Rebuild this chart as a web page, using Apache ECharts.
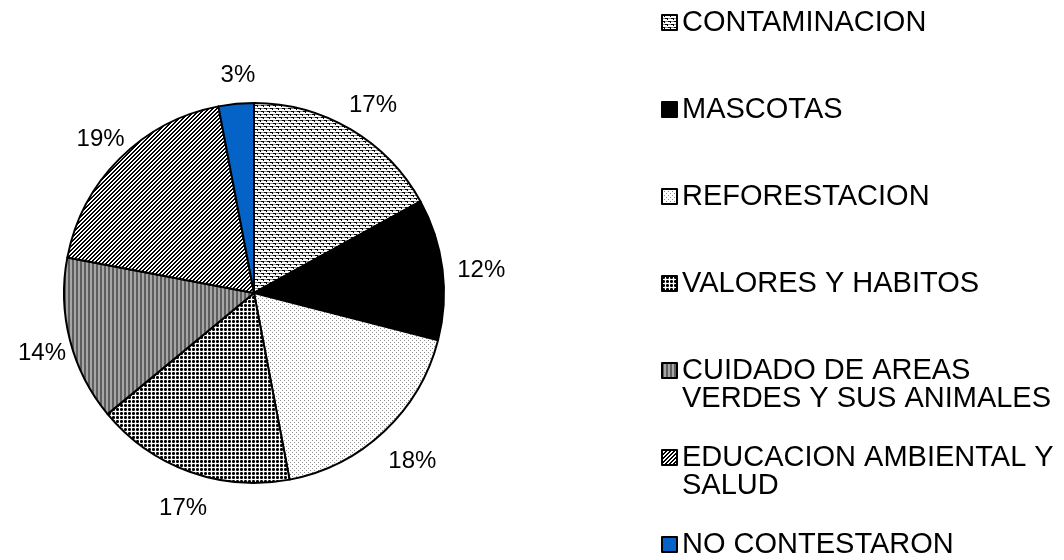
<!DOCTYPE html>
<html>
<head>
<meta charset="utf-8">
<script src="https://cdn.jsdelivr.net/npm/echarts@6/dist/echarts.min.js"></script>
<style>
  html,body{margin:0;padding:0;background:#fff;}
  #main{width:1064px;height:560px;}
</style>
</head>
<body>
<div id="main"></div>
<script>
let categories = ["CONTAMINACION", "MASCOTAS", "REFORESTACION", "VALORES Y HABITOS",
  "CUIDADO DE AREAS VERDES Y SUS ANIMALES", "EDUCACION AMBIENTAL Y SALUD", "NO CONTESTARON"]
let values = [17, 12, 18, 17, 14, 19, 3]
// how the legend wraps the long names
let legendText = ["CONTAMINACION", "MASCOTAS", "REFORESTACION", "VALORES Y HABITOS",
  "CUIDADO DE AREAS\nVERDES Y SUS ANIMALES", "EDUCACION AMBIENTAL Y\nSALUD", "NO CONTESTARON"]

// small canvas tiles for the excel-like fills
function tile(w, h, draw){
  let c = document.createElement('canvas')
  c.width = w; c.height = h
  let ctx = c.getContext('2d')
  ctx.fillStyle = '#fff'
  ctx.fillRect(0, 0, w, h)
  draw(ctx)
  return {image: c, repeat: 'repeat'}
}
function px(ctx, col, pts){
  ctx.fillStyle = col
  pts.forEach(p => ctx.fillRect(p[0], p[1], p[2] || 1, p[3] || 1))
}

let fills = [
  tile(6, 6, ctx => {
    px(ctx, '#000', [[0,0,3,1],[2,1],[3,3,3,1],[5,4]])
    px(ctx, '#8a8a8a', [[3,0,3,1],[0,3,3,1]])
  }),
  '#000',
  tile(4, 4, ctx => px(ctx, '#8c8c8c', [[0,0],[2,2]])),
  tile(4, 4, ctx => {
    px(ctx, '#000', [[1,0],[0,1],[1,1],[2,1],[1,2]])
    px(ctx, '#555', [[0,0],[2,0],[0,2],[2,2]])
  }),
  tile(4, 1, ctx => {
    px(ctx, '#5e5e5e', [[0,0,2,1]])
    px(ctx, '#a6a6a6', [[2,0,2,1]])
  }),
  tile(4, 4, ctx => {
    for(let y = 0; y < 4; y++) for(let x = 0; x < 4; x++)
      if((x + y) % 4 < 2) px(ctx, '#000', [[x, y]])
  }),
  '#0563c8'
]

let myChart = echarts.init(document.getElementById('main'))

let cx = 254, cy = 293, r = 190, labelR = 224
let total = values.reduce((a, b) => a + b, 0)

// label centre on the mid angle of each slice, a bit outside the pie
function labelPos(idx){
  let before = 0
  for(let i = 0; i < idx; i++) before += values[i]
  let a = (before + values[idx] / 2) / total * Math.PI * 2
  return {x: cx + 5 + labelR * Math.sin(a), y: cy + 5 - labelR * Math.cos(a)}
}

let firstLine = 22, step = 87, lh = 28
let legends = categories.map((name, i) => {
  let twoLines = legendText[i].indexOf('\n') >= 0
  return {
    data: [name],
    left: 661,
    top: firstLine + step * i - (twoLines ? lh * 1.5 : lh / 2),
    padding: 0,
    itemWidth: 15,
    itemHeight: 15,
    itemGap: 0,
    icon: 'rect',
    selectedMode: false,
    itemStyle: {borderColor: '#000', borderWidth: 2},
    formatter: () => twoLines ? '\n' + legendText[i] : legendText[i],
    textStyle: {fontFamily: 'Liberation Sans', fontSize: 29, lineHeight: lh, color: '#000'}
  }
})

let option = {
  animation: false,
  legend: legends,
  series: [{
    type: 'pie',
    center: [cx, cy],
    radius: r,
    startAngle: 90,
    clockwise: true,
    avoidLabelOverlap: false,
    itemStyle: {borderColor: '#000', borderWidth: 2},
    label: {
      show: true,
      position: 'outside',
      formatter: '{c}%',
      fontFamily: 'Liberation Sans',
      fontSize: 24,
      color: '#000'
    },
    labelLine: {show: false, length: 10, length2: 0},
    labelLayout: params => {
      let p = labelPos(params.dataIndex)
      return {x: p.x, y: p.y, align: 'center', verticalAlign: 'middle'}
    },
    emphasis: {disabled: true},
    data: categories.map((name, i) => ({name: name, value: values[i], itemStyle: {color: fills[i]}}))
  }]
}

myChart.setOption(option)
</script>
</body>
</html>
